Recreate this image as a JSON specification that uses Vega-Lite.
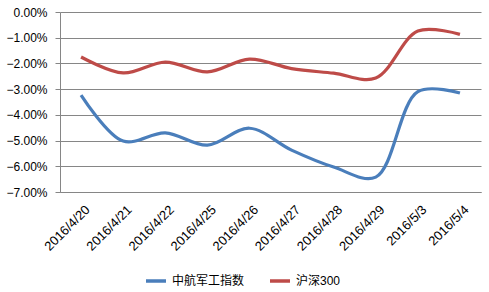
{
  "$schema": "https://vega.github.io/schema/vega-lite/v6.json",
  "autosize": "none",
  "padding": {"left": 60, "top": 12, "right": 8, "bottom": 100},
  "width": 421,
  "height": 180,
  "background": "white",
  "config": {
    "font": "Liberation Sans, Noto Sans CJK SC",
    "view": {"stroke": null}
  },
  "data": {
    "values": [
      {"date": "2016/4/20", "series": "中航军工指数", "value": -0.0323},
      {"date": "2016/4/21", "series": "中航军工指数", "value": -0.0502},
      {"date": "2016/4/22", "series": "中航军工指数", "value": -0.0470},
      {"date": "2016/4/25", "series": "中航军工指数", "value": -0.0518},
      {"date": "2016/4/26", "series": "中航军工指数", "value": -0.0452},
      {"date": "2016/4/27", "series": "中航军工指数", "value": -0.0537},
      {"date": "2016/4/28", "series": "中航军工指数", "value": -0.0603},
      {"date": "2016/4/29", "series": "中航军工指数", "value": -0.0642},
      {"date": "2016/5/3", "series": "中航军工指数", "value": -0.0310},
      {"date": "2016/5/4", "series": "中航军工指数", "value": -0.0315},
      {"date": "2016/4/20", "series": "沪深300", "value": -0.0175},
      {"date": "2016/4/21", "series": "沪深300", "value": -0.0237},
      {"date": "2016/4/22", "series": "沪深300", "value": -0.0195},
      {"date": "2016/4/25", "series": "沪深300", "value": -0.0233},
      {"date": "2016/4/26", "series": "沪深300", "value": -0.0183},
      {"date": "2016/4/27", "series": "沪深300", "value": -0.0220},
      {"date": "2016/4/28", "series": "沪深300", "value": -0.0238},
      {"date": "2016/4/29", "series": "沪深300", "value": -0.0257},
      {"date": "2016/5/3", "series": "沪深300", "value": -0.0074},
      {"date": "2016/5/4", "series": "沪深300", "value": -0.0087}
    ]
  },
  "mark": {"type": "line", "interpolate": "catmull-rom", "strokeWidth": 3.2},
  "encoding": {
    "x": {
      "field": "date",
      "type": "ordinal",
      "sort": null,
      "axis": {
        "title": null,
        "labelAngle": -45,
        "labelAlign": "right",
        "labelBaseline": "top",
        "labelFontSize": 13,
        "labelColor": "#000",
        "labelPadding": 11,
        "labelOffset": 2,
        "ticks": false,
        "domainColor": "#868686",
        "grid": false
      }
    },
    "y": {
      "field": "value",
      "type": "quantitative",
      "scale": {"domain": [-0.07, 0], "nice": false},
      "axis": {
        "title": null,
        "format": ".2%",
        "values": [0, -0.01, -0.02, -0.03, -0.04, -0.05, -0.06, -0.07],
        "labelFontSize": 12,
        "labelColor": "#000",
        "labelPadding": 8,
        "ticks": true,
        "tickSize": 5,
        "tickColor": "#868686",
        "domainColor": "#868686",
        "gridColor": "#868686",
        "gridOpacity": 1
      }
    },
    "color": {
      "field": "series",
      "type": "nominal",
      "sort": ["中航军工指数", "沪深300"],
      "scale": {"domain": ["中航军工指数", "沪深300"], "range": ["#4A7EBB", "#BE4B48"]},
      "legend": {
        "title": null,
        "orient": "none",
        "direction": "horizontal",
        "legendX": 84,
        "legendY": 257,
        "symbolType": "stroke",
        "symbolStrokeWidth": 3.5,
        "symbolSize": 400,
        "labelFontSize": 12,
        "labelColor": "#000",
        "columnPadding": 18
      }
    }
  }
}
